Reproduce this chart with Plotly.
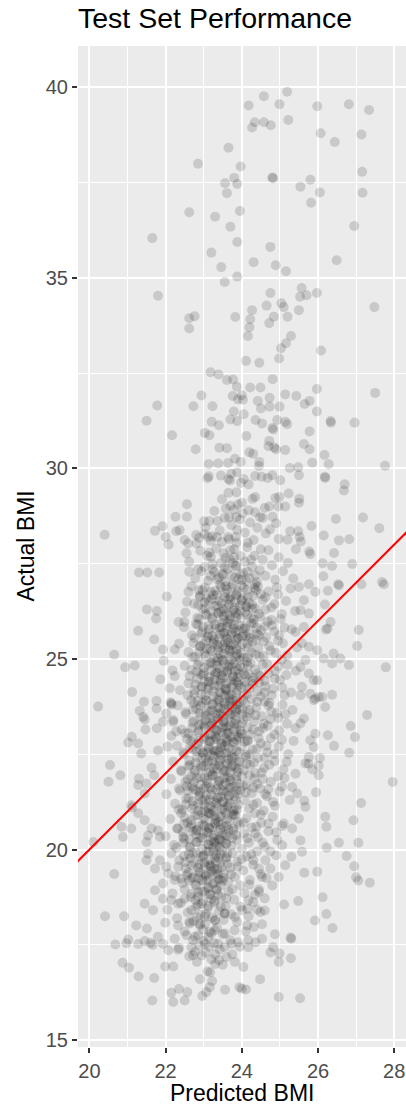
import plotly.graph_objects as go

# Test-set predictions: (predicted BMI, actual BMI)
upper_tail = [
    (23.65, 38.41), (22.85, 37.99), (23.97, 37.92), (23.80, 37.62), (23.56, 37.48), (23.88, 37.46),
    (23.61, 37.22), (22.62, 36.72), (23.30, 36.60), (23.95, 36.75), (23.70, 36.34), (21.65, 36.04),
    (23.88, 35.94), (23.20, 35.66), (23.46, 35.28), (23.88, 35.03), (23.55, 34.89), (21.80, 34.53),
    (24.18, 39.52), (24.58, 39.76), (24.99, 39.55), (25.19, 39.88), (24.34, 39.08), (24.27, 38.94),
    (24.58, 39.08), (24.76, 39.00), (25.22, 39.14), (25.98, 39.50), (26.81, 39.55), (27.34, 39.40),
    (26.07, 38.79), (26.44, 38.56), (27.14, 38.76), (24.80, 37.63), (24.82, 37.61), (25.80, 37.57),
    (25.54, 37.39), (27.16, 37.78), (26.05, 37.24), (27.17, 37.23), (25.82, 36.97), (26.95, 36.36),
    (24.75, 35.81), (24.31, 35.41), (24.89, 35.33), (25.16, 35.17), (26.49, 35.46), (24.75, 34.60),
    (25.57, 34.73), (25.53, 34.50), (25.70, 34.54), (25.97, 34.60), (24.65, 34.27), (25.04, 34.33),
    (25.10, 34.23), (24.27, 34.15), (25.50, 34.15), (27.48, 34.23),
    (22.62, 33.94), (22.76, 33.99), (22.62, 33.67), (23.83, 33.97), (24.22, 33.91), (24.84, 33.98),
    (24.72, 33.81), (25.20, 33.98), (24.20, 33.70), (24.16, 33.47), (25.29, 33.47), (25.16, 33.28),
    (25.03, 33.15), (26.08, 33.09), (24.11, 32.82), (24.46, 32.77), (24.98, 32.88),
]

upper_body = [
    (23.18, 32.52), (23.39, 32.46), (23.61, 32.32), (23.77, 32.33), (23.87, 32.14), (22.94, 31.91),
    (23.76, 31.90), (23.90, 31.81), (21.78, 31.65), (22.73, 31.63), (23.23, 31.63), (21.50, 31.25),
    (23.21, 31.22), (23.40, 31.13), (23.79, 31.49), (23.70, 31.28), (23.88, 31.24), (22.17, 30.87),
    (23.03, 30.93), (23.15, 30.87), (22.79, 30.50), (23.41, 30.54), (23.61, 30.53), (23.82, 30.25),
    (23.13, 30.11), (23.38, 30.13), (23.64, 30.14), (23.13, 29.79), (23.10, 29.74), (23.45, 29.81),
    (23.65, 29.72), (23.72, 29.86), (23.69, 29.68), (23.88, 29.90), (23.65, 29.36), (23.86, 29.37),
    (23.48, 29.19), (23.70, 29.02), (23.80, 28.92), (23.90, 29.05), (22.56, 29.06),
    (24.81, 32.34), (24.22, 32.12), (24.49, 32.12), (24.00, 31.92), (24.03, 31.80), (24.42, 31.77),
    (24.73, 31.85), (25.14, 31.94), (25.43, 31.90), (25.97, 32.08), (27.50, 31.98), (24.50, 31.57),
    (24.73, 31.62), (24.99, 31.62), (25.65, 31.69), (25.78, 31.77), (25.97, 31.49), (24.05, 31.42),
    (24.36, 31.27), (24.53, 31.18), (24.93, 31.27), (25.14, 31.22), (25.19, 31.16), (26.33, 31.24),
    (26.34, 31.20), (26.96, 31.20), (24.12, 30.85), (24.80, 31.06), (24.83, 31.02), (25.78, 30.97),
    (24.72, 30.72), (24.70, 30.58), (24.85, 30.55), (24.90, 30.50), (25.63, 30.64), (25.78, 30.50),
    (25.14, 30.48), (24.20, 30.42), (24.30, 30.38), (24.46, 30.17), (24.45, 30.06), (23.97, 30.17),
    (26.17, 30.35), (25.85, 30.15), (26.28, 30.11), (27.76, 30.07), (25.26, 30.01), (25.48, 30.03),
    (25.50, 29.82), (24.80, 29.82), (24.68, 29.75), (24.52, 29.78), (24.35, 29.80), (24.05, 29.72),
    (23.98, 29.62), (24.18, 29.58), (25.01, 29.69), (26.18, 29.78), (26.19, 29.75), (26.70, 29.58),
    (26.68, 29.42), (25.23, 29.34), (24.98, 29.25), (24.88, 29.22), (24.35, 29.25), (24.28, 29.20),
    (25.51, 29.20), (25.50, 29.10), (25.14, 29.00), (24.96, 29.00), (24.72, 29.00), (24.60, 28.96),
    (24.00, 29.10), (24.18, 28.90), (24.35, 28.85), (24.48, 28.72), (24.81, 28.73), (26.47, 28.67),
    (27.18, 28.71), (27.61, 28.43), (25.83, 28.49), (25.27, 28.35), (25.48, 28.35), (25.52, 28.20),
    (25.55, 28.08), (24.97, 28.15), (25.20, 28.13), (26.15, 28.24), (26.55, 28.11), (26.82, 28.14),
    (25.42, 27.88), (25.77, 27.82), (25.80, 27.75), (26.42, 27.78),
    (22.26, 28.73), (22.56, 28.73), (23.01, 28.61), (23.36, 28.62), (23.55, 28.70), (23.67, 28.72),
    (23.86, 28.72), (20.40, 28.26), (21.72, 28.36), (21.92, 28.48), (22.00, 28.20), (22.28, 28.35),
    (22.08, 28.00), (22.37, 28.38), (22.50, 28.12), (22.59, 28.03), (22.80, 28.25), (22.88, 28.18),
    (23.02, 28.28), (23.12, 28.20), (23.18, 28.10), (23.22, 28.22), (22.81, 28.03), (22.55, 27.77),
    (23.15, 27.79), (23.35, 28.20), (23.64, 28.20), (23.84, 28.20), (23.86, 28.05), (23.70, 27.85),
    (23.57, 27.65), (23.80, 27.67),
]

right_fringe = [
    (26.12, 27.51), (26.37, 27.44), (26.90, 27.49), (26.14, 27.17), (26.53, 26.96), (26.55, 26.93),
    (27.14, 26.96), (27.68, 27.02), (27.73, 26.96), (25.76, 26.96), (25.93, 26.76), (26.26, 26.79),
    (26.18, 26.43), (26.33, 25.97), (26.21, 25.77), (26.25, 25.80), (27.07, 25.76), (27.03, 25.34),
    (25.98, 25.23), (26.15, 25.01), (26.41, 25.14), (26.59, 25.01), (26.37, 24.88), (26.81, 24.84),
    (27.78, 24.78), (25.98, 24.44), (26.11, 24.00), (26.37, 24.06), (26.19, 23.74), (25.93, 23.96),
    (27.29, 23.53), (26.86, 23.24), (26.97, 22.95), (26.26, 23.00), (25.93, 23.04), (26.42, 22.72),
    (26.82, 22.54), (26.05, 22.40), (26.02, 22.20), (26.02, 21.95), (25.85, 22.10), (25.75, 22.25),
    (27.96, 21.77), (25.95, 21.50), (25.64, 21.28), (27.13, 21.22),
    (25.50, 26.89), (25.63, 26.54), (25.54, 26.28), (25.76, 26.19), (25.63, 25.84), (25.41, 25.71),
    (25.58, 25.41), (25.76, 25.32), (25.67, 24.97), (25.54, 24.79), (25.76, 24.62), (25.89, 24.44),
    (25.58, 24.27), (25.80, 24.09), (25.89, 23.92), (25.54, 24.05), (26.02, 24.00), (25.63, 23.44),
    (25.54, 23.31), (25.41, 23.18), (25.80, 22.87), (25.89, 22.69), (25.76, 22.43), (25.67, 22.26),
    (25.41, 21.99), (25.32, 21.64), (25.45, 21.47), (25.67, 21.12),
    (26.19, 20.86), (26.93, 20.77), (26.22, 20.60), (26.55, 20.18), (27.06, 20.18), (26.23, 20.05),
    (26.75, 19.83), (26.95, 19.56), (27.00, 19.27), (27.06, 19.19), (27.36, 19.13), (25.98, 19.42),
    (25.64, 19.39), (25.48, 18.65), (25.11, 18.56), (26.12, 18.75), (26.22, 18.31), (25.92, 18.14),
    (26.38, 17.94), (25.28, 17.69), (25.30, 17.66), (24.87, 17.78), (25.29, 17.15), (24.97, 17.05),
    (24.99, 17.27), (24.75, 17.30), (24.82, 17.44), (24.53, 17.66), (24.36, 17.57), (24.17, 17.44),
    (24.17, 17.62), (24.04, 16.92), (24.48, 16.60), (24.11, 16.33), (24.00, 16.35), (24.97, 16.13),
    (25.53, 16.10),
    (25.10, 20.68), (25.32, 20.55), (25.50, 20.81), (25.54, 20.24), (25.58, 19.94), (25.06, 20.11),
    (25.30, 19.81), (25.14, 19.59), (24.97, 19.28), (24.80, 19.06), (24.53, 19.28), (24.45, 18.89),
    (24.18, 18.67), (24.40, 18.43), (24.49, 18.36), (24.01, 18.41), (24.14, 18.01), (24.31, 17.97),
    (24.53, 18.04),
]

left_fringe = [
    (21.30, 27.27), (21.52, 27.27), (21.83, 27.27), (22.62, 27.29), (22.94, 27.30), (22.03, 26.64),
    (22.60, 26.76), (22.56, 26.50), (21.51, 26.30), (21.77, 26.26), (21.75, 26.06), (22.34, 25.97),
    (22.49, 25.97), (21.28, 25.74), (21.70, 25.51), (21.93, 25.25), (22.24, 25.25), (20.65, 25.11),
    (20.94, 24.78), (21.19, 24.83), (21.95, 24.95), (22.18, 24.70), (21.86, 24.47), (21.12, 24.13),
    (22.11, 24.23), (20.23, 23.75), (21.43, 23.88), (21.32, 23.64), (21.41, 23.48), (21.45, 23.41),
    (21.76, 23.90), (21.76, 23.70), (22.15, 23.83), (22.16, 23.80), (22.13, 23.86), (22.02, 23.57),
    (21.93, 23.35), (21.47, 23.15), (21.77, 23.18), (22.20, 23.35), (22.28, 23.10), (22.15, 22.98),
    (21.11, 22.96), (21.02, 22.81), (21.28, 22.78), (21.36, 22.52), (21.80, 22.60), (22.05, 22.70),
    (20.54, 22.22), (20.81, 21.95), (20.50, 21.78), (21.63, 22.15), (21.70, 21.95), (21.30, 21.86),
    (21.28, 21.69), (21.50, 21.73), (21.45, 21.47), (21.10, 21.16), (21.12, 21.10),
    (20.10, 20.20), (20.84, 20.60), (21.10, 20.55), (20.88, 20.33), (21.28, 20.95), (21.45, 20.77),
    (20.65, 19.36), (21.54, 20.37), (21.50, 20.20), (21.63, 20.55), (21.80, 20.50), (21.85, 20.33),
    (21.54, 19.89), (21.50, 19.72), (21.72, 19.50), (21.85, 19.72), (21.93, 19.11), (21.72, 18.93),
    (21.45, 18.58), (21.67, 18.41), (21.93, 18.71), (22.15, 18.67), (22.33, 18.58), (22.50, 18.71),
    (22.07, 19.37), (22.24, 19.20), (22.41, 19.24),
]

lower_tail = [
    (20.41, 18.25), (20.91, 18.25), (21.23, 18.01), (21.51, 17.93), (20.68, 17.51), (20.97, 17.54),
    (21.02, 17.64), (21.28, 17.52), (21.45, 17.60), (21.60, 17.55), (21.66, 17.50), (20.87, 17.03),
    (21.04, 16.90), (21.29, 16.67), (21.70, 16.63), (21.65, 16.04), (21.99, 16.93), (22.20, 16.93),
    (22.15, 16.24), (22.35, 16.34), (22.20, 16.00), (22.50, 16.04), (22.57, 16.26), (22.90, 16.60),
    (22.96, 16.16), (23.07, 16.26), (23.16, 16.39), (23.22, 16.55), (23.56, 16.32), (23.94, 16.39),
    (23.10, 16.80), (23.17, 16.78), (23.30, 17.00), (23.50, 16.98),
    (21.99, 18.08), (22.33, 18.01), (22.64, 18.06), (22.90, 18.01), (23.16, 17.84), (23.29, 17.88),
    (21.80, 17.71), (21.93, 17.53), (22.07, 17.36), (22.33, 17.37), (22.24, 17.66), (22.55, 17.75),
    (22.77, 17.71), (23.03, 17.53), (22.72, 17.23), (22.77, 17.31), (22.68, 17.44), (23.75, 17.25),
    (23.38, 17.53), (23.55, 17.44), (23.73, 17.53), (23.90, 17.57), (23.20, 17.80), (23.55, 17.80),
    (23.81, 17.88), (23.03, 18.23), (23.29, 18.14), (23.55, 18.32), (23.82, 18.23), (22.68, 18.41),
    (22.81, 18.23),
]

core_top = [
    (23.05, 28.45), (23.28, 28.88), (23.42, 28.37), (23.58, 28.95), (23.73, 28.51), (23.95, 28.66),
    (24.08, 28.31), (24.22, 28.58), (24.41, 28.44), (24.63, 28.29), (24.90, 28.56), (23.15, 28.62),
    (23.66, 28.14), (24.02, 28.82), (24.31, 28.12), (24.55, 28.70), (23.48, 28.07), (24.74, 28.40),
    (23.88, 28.39), (24.16, 28.05),
    (22.62, 27.55), (22.78, 27.12), (22.91, 27.84), (23.02, 27.41), (23.11, 27.05), (23.19, 27.68),
    (23.27, 27.28), (23.33, 27.90), (23.40, 27.14), (23.46, 27.52), (23.52, 27.77), (23.57, 27.03),
    (23.63, 27.36), (23.69, 27.61), (23.74, 27.20), (23.80, 27.88), (23.86, 27.44), (23.91, 27.09),
    (23.97, 27.70), (24.03, 27.27), (24.08, 27.55), (24.14, 27.93), (24.20, 27.12), (24.27, 27.42),
    (24.33, 27.71), (24.40, 27.02), (24.47, 27.33), (24.55, 27.60), (24.62, 27.18), (24.70, 27.85),
    (24.79, 27.46), (24.88, 27.08), (24.97, 27.67), (25.08, 27.30), (25.21, 27.52), (25.35, 27.11),
    (23.23, 27.49), (23.50, 27.25), (23.77, 27.52), (24.00, 27.08), (24.24, 27.60), (24.50, 27.88),
    (23.09, 27.71), (24.36, 27.19), (22.85, 27.35),
    (22.52, 26.22), (22.68, 26.91), (22.75, 26.45), (22.83, 26.08), (22.90, 26.63), (22.97, 26.31),
    (23.03, 26.87), (23.08, 26.14), (23.14, 26.52), (23.19, 26.76), (23.24, 26.03), (23.29, 26.39),
    (23.34, 26.68), (23.38, 26.21), (23.43, 26.95), (23.47, 26.46), (23.52, 26.12), (23.56, 26.73),
    (23.60, 26.34), (23.65, 26.58), (23.69, 26.05), (23.73, 26.88), (23.78, 26.27), (23.82, 26.49),
    (23.86, 26.71), (23.90, 26.16), (23.95, 26.40), (23.99, 26.93), (24.04, 26.60), (24.09, 26.23),
    (24.14, 26.81), (24.19, 26.47), (24.24, 26.07), (24.30, 26.66), (24.36, 26.33), (24.42, 26.90),
    (24.48, 26.11), (24.55, 26.55), (24.62, 26.30), (24.70, 26.77), (24.78, 26.02), (24.86, 26.44),
    (24.95, 26.69), (25.05, 26.18), (25.16, 26.52), (25.28, 26.85), (25.40, 26.26), (23.21, 26.58),
    (23.58, 26.91), (23.84, 26.10), (24.12, 26.36), (23.45, 26.24), (23.99, 26.55), (24.33, 26.86),
    (23.02, 26.48), (23.70, 26.63), (24.50, 26.70), (22.88, 26.80), (23.62, 26.18), (24.27, 26.42),
]

core_middle = [
    (22.35, 25.40), (22.48, 25.83), (22.60, 25.18), (22.69, 25.62), (22.77, 25.05), (22.84, 25.90),
    (22.90, 25.33), (22.96, 25.71), (23.02, 25.14), (23.07, 25.48), (23.12, 25.87), (23.17, 25.25),
    (23.22, 25.60), (23.27, 25.02), (23.31, 25.79), (23.36, 25.37), (23.40, 25.55), (23.44, 25.11),
    (23.48, 25.95), (23.52, 25.68), (23.56, 25.29), (23.60, 25.84), (23.64, 25.43), (23.68, 25.07),
    (23.72, 25.63), (23.76, 25.22), (23.80, 25.90), (23.84, 25.49), (23.88, 25.12), (23.92, 25.74),
    (23.96, 25.31), (24.00, 25.58), (24.05, 25.03), (24.10, 25.85), (24.15, 25.40), (24.20, 25.66),
    (24.25, 25.17), (24.31, 25.93), (24.37, 25.50), (24.43, 25.28), (24.50, 25.75), (24.57, 25.08),
    (24.64, 25.57), (24.72, 25.34), (24.80, 25.88), (24.89, 25.16), (24.98, 25.62), (25.08, 25.41),
    (25.19, 25.09), (25.31, 25.78), (25.45, 25.30), (23.38, 25.22), (23.62, 25.52), (23.83, 25.71),
    (23.71, 25.92), (23.50, 25.35), (23.94, 25.05), (24.12, 25.60), (23.26, 25.45), (23.90, 25.55),
    (24.03, 25.80), (23.55, 25.70), (23.78, 25.38), (24.27, 25.45), (23.12, 25.62), (22.99, 25.40),
    (24.60, 25.85), (23.42, 25.82), (23.67, 25.25), (24.45, 25.62),
    (22.24, 24.55), (22.38, 24.18), (22.50, 24.82), (22.60, 24.36), (22.68, 24.71), (22.75, 24.08),
    (22.82, 24.49), (22.88, 24.92), (22.94, 24.27), (23.00, 24.63), (23.05, 24.04), (23.10, 24.85),
    (23.15, 24.41), (23.20, 24.70), (23.25, 24.16), (23.30, 24.58), (23.34, 24.93), (23.38, 24.30),
    (23.42, 24.75), (23.46, 24.12), (23.50, 24.50), (23.54, 24.88), (23.58, 24.22), (23.62, 24.64),
    (23.66, 24.02), (23.70, 24.42), (23.74, 24.80), (23.78, 24.33), (23.82, 24.68), (23.86, 24.10),
    (23.90, 24.52), (23.94, 24.96), (23.98, 24.25), (24.03, 24.77), (24.08, 24.40), (24.13, 24.07),
    (24.18, 24.60), (24.23, 24.90), (24.29, 24.35), (24.35, 24.72), (24.41, 24.15), (24.48, 24.55),
    (24.55, 24.85), (24.62, 24.28), (24.70, 24.62), (24.78, 24.05), (24.87, 24.48), (24.96, 24.80),
    (25.06, 24.25), (25.17, 24.58), (25.29, 24.12), (25.42, 24.69), (23.28, 24.45), (23.52, 24.66),
    (23.76, 24.55), (23.44, 24.38), (23.68, 24.85), (23.92, 24.32), (24.16, 24.82), (23.36, 24.64),
    (23.60, 24.18), (23.84, 24.42), (24.06, 24.60), (23.13, 24.25), (23.72, 24.97), (24.30, 24.50),
    (23.48, 24.98), (23.02, 24.40), (24.45, 24.38), (23.90, 24.72), (23.22, 24.90), (24.60, 24.12),
    (22.92, 24.60), (24.20, 24.22), (23.56, 24.05),
    (22.20, 23.40), (22.32, 23.78), (22.42, 23.15), (22.52, 23.60), (22.60, 23.05), (22.67, 23.92),
    (22.74, 23.38), (22.80, 23.70), (22.86, 23.12), (22.92, 23.50), (22.97, 23.85), (23.02, 23.26),
    (23.07, 23.64), (23.12, 23.02), (23.17, 23.44), (23.22, 23.80), (23.26, 23.18), (23.31, 23.56),
    (23.35, 23.93), (23.39, 23.32), (23.43, 23.70), (23.47, 23.08), (23.51, 23.48), (23.55, 23.86),
    (23.59, 23.22), (23.63, 23.60), (23.67, 23.97), (23.71, 23.35), (23.75, 23.75), (23.79, 23.11),
    (23.83, 23.52), (23.87, 23.90), (23.91, 23.28), (23.95, 23.66), (24.00, 23.04), (24.05, 23.42),
    (24.10, 23.82), (24.15, 23.20), (24.20, 23.58), (24.26, 23.95), (24.32, 23.36), (24.38, 23.72),
    (24.45, 23.10), (24.52, 23.50), (24.60, 23.88), (24.68, 23.25), (24.77, 23.62), (24.86, 23.02),
    (24.96, 23.45), (25.07, 23.80), (25.19, 23.30), (25.33, 23.66), (23.15, 23.62), (23.33, 23.12),
    (23.53, 23.35), (23.73, 23.55), (23.93, 23.85), (23.41, 23.90), (23.61, 23.04), (23.81, 23.30),
    (24.02, 23.70), (24.22, 23.02), (23.25, 23.38), (23.45, 23.55), (23.65, 23.78), (23.85, 23.68),
    (24.12, 23.48), (22.95, 23.30), (23.05, 23.92), (24.40, 23.88), (24.58, 23.30), (23.38, 23.72),
    (23.57, 23.15), (23.77, 23.92), (22.85, 23.90), (24.30, 23.15), (23.96, 23.12), (23.18, 23.25),
    (24.72, 23.85),
]

core_lower = [
    (22.20, 22.30), (22.30, 22.72), (22.40, 22.08), (22.48, 22.50), (22.56, 22.90), (22.63, 22.22),
    (22.70, 22.63), (22.76, 22.02), (22.82, 22.42), (22.88, 22.84), (22.93, 22.15), (22.98, 22.55),
    (23.03, 22.95), (23.08, 22.28), (23.12, 22.70), (23.17, 22.05), (23.21, 22.47), (23.26, 22.88),
    (23.30, 22.20), (23.34, 22.60), (23.38, 22.98), (23.42, 22.33), (23.46, 22.75), (23.50, 22.10),
    (23.54, 22.52), (23.58, 22.92), (23.62, 22.25), (23.66, 22.66), (23.70, 22.03), (23.74, 22.44),
    (23.78, 22.83), (23.82, 22.17), (23.86, 22.58), (23.90, 22.96), (23.95, 22.30), (24.00, 22.70),
    (24.05, 22.08), (24.10, 22.48), (24.16, 22.87), (24.22, 22.22), (24.28, 22.62), (24.35, 22.01),
    (24.42, 22.40), (24.50, 22.78), (24.58, 22.14), (24.67, 22.55), (24.76, 22.92), (24.86, 22.32),
    (24.97, 22.70), (25.09, 22.10), (25.22, 22.50), (25.36, 22.85), (23.05, 22.40), (23.25, 22.60),
    (23.45, 22.48), (23.65, 22.38), (23.85, 22.88), (23.15, 22.85), (23.35, 22.12), (23.55, 22.72),
    (23.75, 22.20), (24.08, 22.82), (23.00, 22.18), (23.40, 22.55), (23.60, 22.82), (23.80, 22.42),
    (24.20, 22.50), (22.90, 22.62), (23.22, 22.32), (23.52, 22.02), (24.40, 22.65), (23.72, 22.95),
    (23.92, 22.12), (24.60, 22.40), (22.72, 22.90), (23.10, 22.55), (24.12, 22.25), (23.33, 22.90),
    (22.02, 21.45), (22.14, 21.85), (22.25, 21.20), (22.35, 21.60), (22.44, 21.05), (22.52, 21.78),
    (22.60, 21.35), (22.67, 21.92), (22.74, 21.15), (22.80, 21.55), (22.86, 21.02), (22.92, 21.70),
    (22.97, 21.28), (23.02, 21.88), (23.07, 21.42), (23.12, 21.08), (23.17, 21.62), (23.22, 21.95),
    (23.27, 21.25), (23.32, 21.58), (23.36, 21.12), (23.41, 21.80), (23.45, 21.38), (23.50, 21.68),
    (23.54, 21.04), (23.59, 21.50), (23.63, 21.90), (23.68, 21.22), (23.72, 21.62), (23.77, 21.00),
    (23.81, 21.40), (23.86, 21.82), (23.91, 21.18), (23.96, 21.55), (24.01, 21.92), (24.07, 21.30),
    (24.13, 21.70), (24.19, 21.08), (24.26, 21.48), (24.33, 21.86), (24.40, 21.22), (24.48, 21.60),
    (24.57, 21.02), (24.66, 21.40), (24.76, 21.78), (24.87, 21.15), (24.99, 21.52), (25.12, 21.88),
    (25.26, 21.30), (22.90, 21.45), (23.10, 21.75), (23.30, 21.92), (23.52, 21.25), (23.70, 21.85),
    (23.90, 21.45), (23.25, 21.02), (23.46, 21.56), (23.66, 21.42), (23.88, 21.05), (24.10, 21.50),
    (22.70, 21.65), (23.02, 21.18), (23.38, 21.35), (23.58, 21.75), (23.80, 21.65), (24.30, 21.62),
    (22.82, 21.88), (23.15, 21.30), (24.55, 21.85), (23.00, 21.60), (23.62, 21.12), (24.20, 21.95),
    (22.58, 21.55), (23.94, 21.72), (24.70, 21.58),
    (22.00, 20.35), (22.12, 20.80), (22.22, 20.12), (22.32, 20.55), (22.41, 20.95), (22.49, 20.28),
    (22.57, 20.70), (22.64, 20.05), (22.71, 20.48), (22.77, 20.88), (22.83, 20.20), (22.89, 20.62),
    (22.95, 20.98), (23.00, 20.40), (23.05, 20.78), (23.10, 20.14), (23.15, 20.55), (23.20, 20.92),
    (23.25, 20.30), (23.30, 20.68), (23.34, 20.08), (23.39, 20.45), (23.43, 20.85), (23.48, 20.22),
    (23.53, 20.60), (23.58, 20.96), (23.63, 20.35), (23.68, 20.75), (23.73, 20.10), (23.78, 20.50),
    (23.83, 20.90), (23.88, 20.25), (23.94, 20.65), (24.00, 20.02), (24.06, 20.42), (24.12, 20.82),
    (24.19, 20.18), (24.26, 20.58), (24.34, 20.95), (24.42, 20.32), (24.51, 20.70), (24.60, 20.08),
    (24.70, 20.48), (24.81, 20.86), (24.93, 20.25), (25.06, 20.62), (23.08, 20.45), (23.28, 20.88),
    (23.18, 20.22), (23.38, 20.72), (23.50, 20.38), (23.22, 20.58), (23.12, 20.95), (23.32, 20.18),
    (23.45, 20.65), (23.65, 20.52), (23.85, 20.38), (22.90, 20.30), (22.68, 20.65), (23.02, 20.62),
    (23.60, 20.15), (23.90, 20.72), (24.15, 20.30), (22.80, 20.50), (23.40, 20.28), (24.38, 20.60),
    (22.45, 20.45), (23.75, 20.90), (24.05, 20.70), (23.25, 20.05),
]

core_bottom = [
    (22.02, 19.55), (22.15, 19.90), (22.26, 19.30), (22.36, 19.72), (22.45, 19.12), (22.53, 19.50),
    (22.61, 19.88), (22.68, 19.25), (22.75, 19.65), (22.81, 19.05), (22.87, 19.42), (22.93, 19.80),
    (22.98, 19.18), (23.03, 19.58), (23.08, 19.95), (23.13, 19.35), (23.18, 19.72), (23.23, 19.10),
    (23.28, 19.48), (23.33, 19.85), (23.38, 19.22), (23.43, 19.62), (23.48, 19.98), (23.53, 19.38),
    (23.58, 19.75), (23.64, 19.15), (23.70, 19.52), (23.76, 19.90), (23.82, 19.28), (23.89, 19.68),
    (23.96, 19.06), (24.04, 19.45), (24.12, 19.82), (24.21, 19.20), (24.30, 19.60), (24.40, 19.95),
    (24.50, 19.35), (24.62, 19.72), (24.75, 19.50), (24.90, 19.85), (23.20, 19.55), (23.40, 19.78),
    (23.10, 19.20), (23.30, 19.35), (22.90, 19.62), (23.50, 19.18), (23.62, 19.90), (23.00, 19.85),
    (23.25, 19.95), (22.72, 19.90), (23.15, 19.60), (23.36, 19.48), (23.72, 19.35), (22.60, 19.40),
    (23.90, 19.55), (24.25, 19.88), (22.85, 19.25), (23.45, 19.05), (24.00, 19.75), (23.05, 19.35),
    (22.05, 18.42), (22.18, 18.85), (22.30, 18.20), (22.40, 18.60), (22.50, 18.95), (22.58, 18.35),
    (22.66, 18.75), (22.73, 18.12), (22.80, 18.50), (22.86, 18.88), (22.92, 18.28), (22.98, 18.65),
    (23.04, 18.05), (23.10, 18.45), (23.16, 18.82), (23.22, 18.22), (23.28, 18.60), (23.34, 18.95),
    (23.40, 18.38), (23.46, 18.75), (23.52, 18.15), (23.58, 18.52), (23.65, 18.90), (23.72, 18.30),
    (23.80, 18.68), (23.88, 18.10), (23.97, 18.50), (24.07, 18.85), (24.18, 18.25), (24.30, 18.62),
    (24.45, 18.95), (24.60, 18.40), (22.95, 18.90), (23.20, 18.70), (23.05, 18.30), (23.30, 18.15),
    (23.45, 18.50), (22.85, 18.55), (23.12, 18.98), (23.60, 18.72), (22.62, 18.10), (23.75, 18.95),
    (23.38, 18.82), (22.90, 18.05), (23.55, 18.32),
    (22.35, 17.42), (22.50, 17.85), (22.62, 17.20), (22.72, 17.62), (22.82, 17.05), (22.90, 17.48),
    (22.98, 17.90), (23.05, 17.30), (23.12, 17.70), (23.20, 17.12), (23.27, 17.55), (23.35, 17.95),
    (23.42, 17.38), (23.50, 17.78), (23.60, 17.18), (23.70, 17.62), (23.82, 17.05), (23.95, 17.45),
    (24.10, 17.85), (22.95, 17.22), (23.15, 17.45), (22.85, 17.75), (23.30, 17.25), (23.00, 17.60),
    (23.40, 17.10),
]

core_right = [
    (24.35, 26.95), (24.62, 26.62), (24.78, 26.35), (24.92, 26.88), (24.45, 26.18), (24.68, 25.98),
    (24.85, 25.72), (25.02, 26.05), (24.38, 25.82), (24.58, 25.46), (24.76, 25.22), (24.95, 25.48),
    (25.12, 25.82), (24.47, 25.05), (24.66, 24.88), (24.88, 24.68), (25.05, 24.98), (24.42, 24.62),
    (24.60, 24.42), (24.82, 24.22), (25.00, 24.45), (25.20, 24.85), (24.50, 24.02), (24.70, 23.78),
    (24.92, 23.58), (25.12, 24.05), (24.36, 23.52), (24.55, 23.18), (24.75, 23.42), (24.98, 23.12),
    (25.15, 23.55), (24.44, 22.92), (24.65, 22.72), (24.85, 22.50), (25.05, 22.88), (24.32, 22.28),
    (24.52, 22.02), (24.72, 22.22), (24.95, 21.92), (25.18, 22.30), (24.40, 21.72), (24.62, 21.45),
    (24.82, 21.25), (25.05, 21.65), (24.30, 21.18), (24.50, 20.92), (24.70, 20.68), (24.90, 20.45),
    (24.35, 20.42), (24.55, 20.18), (24.75, 19.95), (24.30, 19.72), (24.45, 19.50), (24.65, 19.25),
    (24.20, 19.08), (24.35, 18.82), (24.60, 18.72), (24.15, 18.45),
]

core_dense_upper = [
    (23.24, 27.35), (23.55, 27.40), (23.84, 27.44), (24.15, 27.28),
    (23.18, 27.18), (23.50, 27.20), (23.82, 27.14), (24.12, 27.04), (23.35, 27.09), (23.97, 27.22),
    (22.97, 26.80), (23.30, 26.78), (23.46, 26.88), (23.61, 26.82), (23.76, 26.95), (23.90, 26.76),
    (24.05, 26.87), (24.37, 26.80),
    (22.90, 26.66), (23.07, 26.58), (23.24, 26.68), (23.40, 26.52), (23.55, 26.62), (23.70, 26.55),
    (23.85, 26.67), (24.00, 26.53), (24.16, 26.64),
    (22.86, 26.41), (23.04, 26.33), (23.20, 26.26), (23.36, 26.40), (23.52, 26.30), (23.66, 26.42),
    (23.81, 26.34), (23.96, 26.27), (24.11, 26.39), (24.28, 26.31),
    (22.88, 26.05), (23.05, 26.18), (23.22, 26.08), (23.38, 26.20), (23.54, 26.02), (23.69, 26.13),
    (23.84, 26.21), (23.98, 26.06), (24.14, 26.16), (24.31, 26.04),
    (22.80, 25.92), (22.98, 25.84), (23.15, 25.78), (23.31, 25.90), (23.47, 25.82), (23.63, 25.95),
    (23.78, 25.79), (23.93, 25.88), (24.08, 25.80), (24.25, 25.93),
    (22.76, 25.55), (22.94, 25.67), (23.10, 25.58), (23.27, 25.52), (23.43, 25.65), (23.59, 25.57),
    (23.74, 25.69), (23.89, 25.53), (24.04, 25.62), (24.21, 25.55), (24.40, 25.66),
    (22.73, 25.42), (22.91, 25.33), (23.08, 25.27), (23.24, 25.40), (23.40, 25.31), (23.56, 25.44),
    (23.71, 25.36), (23.86, 25.26), (24.01, 25.39), (24.18, 25.30),
    (22.70, 25.05), (22.88, 25.18), (23.05, 25.08), (23.21, 25.20), (23.37, 25.02), (23.53, 25.13),
    (23.68, 25.21), (23.83, 25.06), (23.99, 25.16), (24.16, 25.04), (24.36, 25.12),
    (22.84, 24.84), (23.01, 24.77), (23.18, 24.90), (23.34, 24.82), (23.50, 24.95), (23.65, 24.79),
    (23.80, 24.88), (23.96, 24.80), (24.13, 24.93),
    (22.63, 24.55), (22.81, 24.67), (22.98, 24.58), (23.15, 24.52), (23.31, 24.65), (23.47, 24.57),
    (23.62, 24.69), (23.77, 24.53), (23.93, 24.62), (24.10, 24.55),
    (22.78, 24.33), (22.95, 24.27), (23.12, 24.40), (23.28, 24.31), (23.44, 24.44), (23.59, 24.36),
    (23.74, 24.26), (23.90, 24.39), (24.07, 24.30), (24.27, 24.43),
    (22.58, 24.05), (22.76, 24.18), (22.93, 24.08), (23.10, 24.20), (23.26, 24.02), (23.42, 24.13),
    (23.57, 24.21), (23.72, 24.06), (23.88, 24.16), (24.05, 24.04),
]

core_dense_lower = [
    (22.74, 23.84), (22.91, 23.77), (23.08, 23.90), (23.24, 23.82), (23.40, 23.95), (23.55, 23.79),
    (23.70, 23.88), (23.86, 23.80), (24.03, 23.93),
    (22.54, 23.55), (22.72, 23.67), (22.89, 23.58), (23.06, 23.52), (23.22, 23.65), (23.38, 23.57),
    (23.53, 23.69), (23.68, 23.53), (23.84, 23.62), (24.01, 23.55), (24.21, 23.66),
    (22.71, 23.33), (22.88, 23.27), (23.05, 23.40), (23.21, 23.31), (23.37, 23.44), (23.52, 23.36),
    (23.67, 23.26), (23.83, 23.39), (24.00, 23.30),
    (22.51, 23.05), (22.69, 23.18), (22.86, 23.08), (23.03, 23.20), (23.19, 23.02), (23.35, 23.13),
    (23.50, 23.21), (23.65, 23.06), (23.81, 23.16), (23.98, 23.04),
    (22.66, 22.84), (22.83, 22.77), (23.00, 22.90), (23.16, 22.82), (23.32, 22.95), (23.47, 22.79),
    (23.62, 22.88), (23.78, 22.80), (23.95, 22.93), (24.15, 22.84),
    (22.46, 22.55), (22.64, 22.67), (22.81, 22.58), (22.98, 22.52), (23.14, 22.65), (23.30, 22.57),
    (23.45, 22.69), (23.60, 22.53), (23.76, 22.62), (23.93, 22.55),
    (22.62, 22.33), (22.79, 22.27), (22.96, 22.40), (23.12, 22.31), (23.28, 22.44), (23.43, 22.36),
    (23.58, 22.26), (23.74, 22.39), (23.91, 22.30), (24.11, 22.43),
    (22.42, 22.05), (22.60, 22.18), (22.77, 22.08), (22.94, 22.20), (23.10, 22.02), (23.26, 22.13),
    (23.41, 22.21), (23.56, 22.06), (23.72, 22.16), (23.89, 22.04),
    (22.58, 21.84), (22.75, 21.77), (22.92, 21.90), (23.08, 21.82), (23.24, 21.95), (23.39, 21.79),
    (23.54, 21.88), (23.70, 21.80), (23.87, 21.93),
    (22.38, 21.55), (22.56, 21.67), (22.73, 21.58), (22.90, 21.52), (23.06, 21.65), (23.22, 21.57),
    (23.37, 21.69), (23.52, 21.53), (23.68, 21.62), (23.85, 21.55), (24.05, 21.66),
    (22.54, 21.33), (22.71, 21.27), (22.88, 21.40), (23.04, 21.31), (23.20, 21.44), (23.35, 21.36),
    (23.50, 21.26), (23.66, 21.39), (23.83, 21.30),
    (22.34, 21.05), (22.52, 21.18), (22.69, 21.08), (22.86, 21.20), (23.02, 21.02), (23.18, 21.13),
    (23.33, 21.21), (23.48, 21.06), (23.64, 21.16), (23.81, 21.04),
    (22.50, 20.84), (22.67, 20.77), (22.84, 20.90), (23.00, 20.82), (23.16, 20.95), (23.31, 20.79),
    (23.46, 20.88), (23.62, 20.80), (23.79, 20.93),
    (22.30, 20.55), (22.48, 20.67), (22.65, 20.58), (22.82, 20.52), (22.98, 20.65), (23.14, 20.57),
    (23.29, 20.69), (23.44, 20.53), (23.60, 20.62), (23.77, 20.55),
    (22.46, 20.33), (22.63, 20.27), (22.80, 20.40), (22.96, 20.31), (23.12, 20.44), (23.27, 20.36),
    (23.42, 20.26), (23.58, 20.39), (23.75, 20.30),
    (22.28, 20.05), (22.46, 20.18), (22.63, 20.08), (22.80, 20.20), (22.96, 20.02), (23.12, 20.13),
    (23.27, 20.21), (23.42, 20.06), (23.58, 20.16),
    (22.48, 19.84), (22.65, 19.77), (22.82, 19.90), (22.98, 19.82), (23.14, 19.95), (23.29, 19.79),
    (23.44, 19.88), (23.60, 19.80),
    (22.33, 19.55), (22.51, 19.67), (22.68, 19.58), (22.85, 19.52), (23.01, 19.65), (23.17, 19.57),
    (23.32, 19.69), (23.47, 19.53), (23.63, 19.62),
    (22.56, 19.33), (22.73, 19.27), (22.90, 19.40), (23.06, 19.31), (23.22, 19.44), (23.37, 19.36),
    (23.52, 19.26),
    (22.61, 19.18), (22.78, 19.08), (22.95, 19.20), (23.11, 19.02), (23.27, 19.13), (23.42, 19.21),
    (22.68, 18.84), (22.85, 18.77), (23.02, 18.90), (23.18, 18.82), (23.34, 18.95),
    (22.78, 18.67), (22.95, 18.58), (23.12, 18.52), (23.28, 18.65),
]

groups = [upper_tail, upper_body, right_fringe, left_fringe, lower_tail,
          core_top, core_middle, core_lower, core_bottom, core_right,
          core_dense_upper, core_dense_lower]
predicted = [p for g in groups for p, _ in g]
actual = [a for g in groups for _, a in g]

# identity reference line (perfect prediction)
identity = [19.0, 29.0]

x_ticks = [20, 22, 24, 26, 28]
y_ticks = [15, 20, 25, 30, 35, 40]

font_family = "Liberation Sans, Arial, sans-serif"

fig = go.Figure()
fig.add_trace(go.Scatter(
    x=predicted, y=actual, mode="markers",
    marker=dict(size=10, color="rgba(0,0,0,0.14)", line=dict(width=0)),
    hoverinfo="skip", showlegend=False,
))
fig.add_trace(go.Scatter(
    x=identity, y=identity, mode="lines",
    line=dict(color="#FF0000", width=2),
    hoverinfo="skip", showlegend=False,
))

axis_common = dict(
    showline=False, zeroline=False,
    showgrid=True, gridcolor="white", gridwidth=2,
    ticks="outside", ticklen=5, tickwidth=1.5, tickcolor="#333333",
    tickfont=dict(family=font_family, size=20, color="#4D4D4D"),
)

fig.update_layout(
    width=406, height=1107,
    margin=dict(l=78, r=0, t=46, b=60),
    paper_bgcolor="white", plot_bgcolor="#EBEBEB",
    title=dict(text="Test Set Performance", x=78 / 406, xref="container", xanchor="left",
               y=1 - 18 / 1107, yref="container", yanchor="middle",
               font=dict(family=font_family, size=28.5, color="black")),
    xaxis=dict(range=[19.70, 28.31], tickvals=x_ticks, ticklabelstandoff=1,
               minor=dict(dtick=1, tick0=0, showgrid=True, gridcolor="white", gridwidth=1, ticks=""),
               **axis_common),
    yaxis=dict(range=[14.82, 41.08], tickvals=y_ticks,
               minor=dict(dtick=2.5, tick0=0, showgrid=True, gridcolor="white", gridwidth=1, ticks=""),
               **axis_common),
    annotations=[
        dict(text="Predicted BMI", xref="paper", yref="paper", x=0.5, y=-61 / 1001,
             xanchor="center", yanchor="bottom", showarrow=False,
             font=dict(family=font_family, size=23, color="black")),
        dict(text="Actual BMI", xref="paper", yref="paper", x=-53 / 328, y=0.5,
             xanchor="center", yanchor="middle", textangle=-90, showarrow=False,
             font=dict(family=font_family, size=23, color="black")),
    ],
)

fig.write_html("out.html")
